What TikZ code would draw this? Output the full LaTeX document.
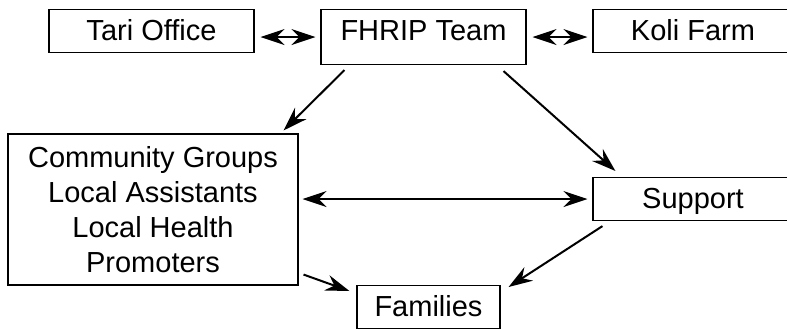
\documentclass[tikz,border=0pt]{standalone}
\usepackage{fontspec}
\setmainfont{Liberation Sans}
\usetikzlibrary{arrows.meta}

\begin{document}
\begin{tikzpicture}[
		x=0.5pt, y=-0.5pt,
		font=\fontsize{14.5}{17.5}\selectfont,
		box/.style={draw, line width=0.55pt, inner xsep=0pt, inner ysep=4pt, text height=11.5pt, text depth=2pt, anchor=north},
		group/.style={draw, line width=0.55pt, align=center, minimum width=145pt, minimum height=75.5pt},
		arr/.style={-{Stealth[length=12pt, width=8pt, inset=4pt]}, line width=1pt},
		both/.style={{Stealth[length=12pt, width=8pt, inset=4pt]}-{Stealth[length=12pt, width=8pt, inset=4pt]}, line width=1pt}
	]
	\useasboundingbox (0,0) rectangle (787,328);

	% Fila superior
	\node[box, minimum width=102.5pt] (tari) at (151.5,9) {Tari Office};
	\node[box, minimum width=102.5pt, text depth=8pt] (fhrip) at (423.5,9) {FHRIP Team};
	\node[box, minimum width=100pt] (koli) at (693,9) {Koli Farm};

	% Fila central
	\node[group] (groups) at (153,209.5) {Community Groups\\Local Assistants\\Local Health\\Promoters};
	\node[box, minimum width=100pt] (support) at (693,177) {Support};

	% Fila inferior
	\node[box, minimum width=71.5pt] (families) at (428.5,285) {Families};

	% Flechas dobles
	\draw[both, shorten <=3pt, shorten >=2.5pt] (tari.east |- fhrip.west) -- (fhrip.west);
	\draw[both, shorten <=3pt, shorten >=2.5pt] (fhrip.east) -- (koli.west |- fhrip.east);
	\draw[both, shorten <=2pt, shorten >=2.5pt] (groups.east |- support.west) -- (support.west);

	% Flechas diagonales
	\draw[arr] ([xshift=12pt, yshift=-2.5pt]fhrip.south west) -- ([xshift=-7.5pt, yshift=1.5pt]groups.north east);
	\draw[arr] ([xshift=-11.5pt, yshift=-3pt]fhrip.south east) -- ([xshift=11.5pt, yshift=3pt]support.north west);
	\draw[arr] ([xshift=2.5pt, yshift=5.5pt]groups.south east) -- ([xshift=-3.5pt, yshift=-3pt]families.north west);
	\draw[arr] ([xshift=5pt, yshift=-2.5pt]support.south west) -- ([xshift=4pt, yshift=-1pt]families.north east);

\end{tikzpicture}
\end{document}
